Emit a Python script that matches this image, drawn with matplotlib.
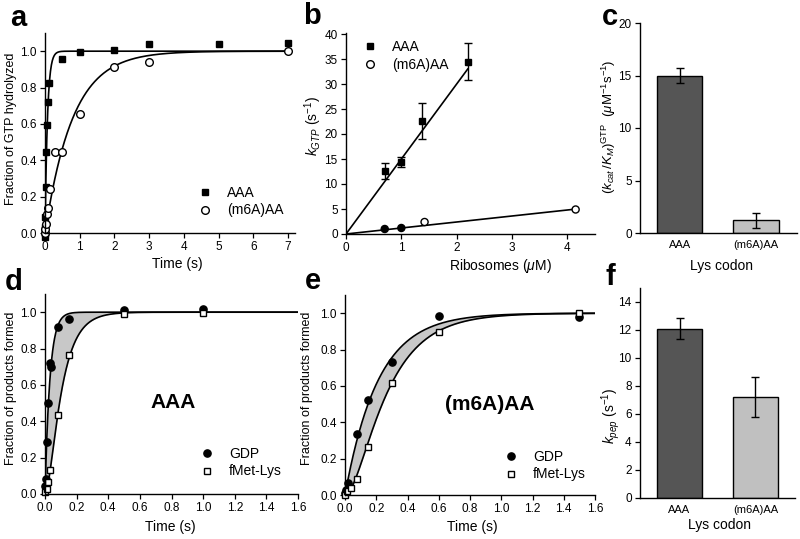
import numpy as np
import matplotlib
matplotlib.use("Agg")
import matplotlib.pyplot as plt

plt.rcParams["font.family"] = ["Liberation Sans", "DejaVu Sans"]
plt.rcParams["mathtext.fontset"] = "custom"
plt.rcParams["mathtext.rm"] = "Liberation Sans"
plt.rcParams["mathtext.it"] = "Liberation Sans:italic"
plt.rcParams["mathtext.bf"] = "Liberation Sans:bold"
plt.rcParams["axes.linewidth"] = 1.0

# ---- panel a: GTP hydrolysis time courses
t_a_aaa = [0, 0, 0.005, 0.01, 0.02, 0.04, 0.06, 0.09, 0.12, 0.5, 1, 2, 3, 5, 7]
y_a_aaa = [-0.02, 0.0, 0.035, 0.087, 0.255, 0.445, 0.595, 0.72, 0.824,
           0.956, 0.996, 1.007, 1.04, 1.04, 1.045]
t_a_m6a = [0, 0.01, 0.03, 0.06, 0.09, 0.15, 0.3, 0.5, 1, 2, 3, 7]
y_a_m6a = [0.0, 0.02, 0.05, 0.105, 0.136, 0.242, 0.445, 0.445,
           0.656, 0.915, 0.938, 1.0]
k_fit_a = {"AAA": 14.0, "(m6A)AA": 1.25}

# ---- panel b: kGTP vs ribosome concentration
conc_aaa = [0.7, 1.0, 1.37, 2.2]
kgtp_aaa = [12.6, 14.5, 22.7, 34.5]
kgtp_aaa_err = [1.6, 1.0, 3.6, 3.7]
conc_m6a = [0.7, 1.0, 1.42, 4.15]
kgtp_m6a = [1.0, 1.2, 2.4, 4.9]
m6a_filled = [True, True, False, False]

# ---- panel c: kcat/KM
codons = ["AAA", "(m6A)AA"]
kcat_km = [15.0, 1.2]
kcat_km_err = [0.7, 0.7]

# ---- panel d: AAA, GDP and fMet-Lys
t_d_gdp = [0.0, 0.005, 0.01, 0.02, 0.03, 0.04, 0.08, 0.15, 0.5, 1.0]
y_d_gdp = [0.045, 0.08, 0.285, 0.5, 0.72, 0.70, 0.92, 0.965, 1.01, 1.02]
t_d_pep = [0.0, 0.01, 0.02, 0.03, 0.08, 0.15, 0.5, 1.0]
y_d_pep = [0.01, 0.03, 0.065, 0.13, 0.435, 0.765, 0.99, 0.995]
k_fit_d = (32.0, 12.0)

# ---- panel e: (m6A)AA, GDP and fMet-Lys
t_e_gdp = [0.0, 0.005, 0.017, 0.077, 0.146, 0.3, 0.6, 1.5]
y_e_gdp = [0.01, 0.03, 0.065, 0.338, 0.52, 0.73, 0.987, 0.98]
t_e_pep = [0.0, 0.01, 0.04, 0.077, 0.146, 0.3, 0.6, 1.5]
y_e_pep = [0.0, 0.02, 0.04, 0.09, 0.265, 0.615, 0.894, 1.0]
k_fit_e = (4.7, 12.0)

# ---- panel f: kpep
kpep = [12.1, 7.2]
kpep_err = [0.75, 1.4]

bar_colors = ["#555555", "#c0c0c0"]
shade = "#c8c8c8"
TICK = 8.5


def single_exp(t, k):
    return 1 - np.exp(-k * t)


def two_step(t, k1, k2):
    return 1 - (k2 * np.exp(-k1 * t) - k1 * np.exp(-k2 * t)) / (k2 - k1)


def style(ax):
    for s in ("top", "right"):
        ax.spines[s].set_visible(False)
    ax.tick_params(direction="out", length=3.5, width=0.9, labelsize=TICK, pad=2.5)


def letter(x, y, s):
    fig.text(x / 800, 1 - y / 539, s, fontsize=21, fontweight="bold",
             ha="center", va="center")


def legend(ax, handles, labels, x0, y0):
    ax.legend(handles, labels, loc="upper left", bbox_to_anchor=(x0, y0),
              frameon=False, fontsize=10, borderpad=0, handlelength=1.0,
              handletextpad=1.1, labelspacing=0.25, borderaxespad=0)


fig = plt.figure(figsize=(8, 5.39), dpi=100)

# ---------------- a
ax = fig.add_axes([45 / 800, 1 - 233 / 539, 250 / 800, 200 / 539])
style(ax)
tt = np.linspace(0, 7, 800)
ax.plot(tt, single_exp(tt, k_fit_a["AAA"]), color="black", lw=1.2)
ax.plot(tt, single_exp(tt, k_fit_a["(m6A)AA"]), color="black", lw=1.2)
h1, = ax.plot(t_a_aaa, y_a_aaa, "s", color="black", ms=5, clip_on=False)
h2, = ax.plot(t_a_m6a, y_a_m6a, "o", mfc="white", mec="black", mew=1.0,
              ms=5.5, clip_on=False)
ax.set_xlim(0, 7.2)
ax.set_ylim(0, 1.1)
ax.set_xticks(range(8))
ax.set_yticks(np.arange(0, 1.01, 0.2))
ax.set_yticklabels([f"{v:.1f}" for v in np.arange(0, 1.01, 0.2)])
ax.set_xlabel("Time (s)", fontsize=10)
ax.set_ylabel("Fraction of GTP hydrolyzed", fontsize=9)
ax.xaxis.set_label_coords(0.53, -0.12)
ax.yaxis.set_label_coords(-0.11, 0.52)
legend(ax, [h1, h2], ["AAA", "(m6A)AA"], 0.612, 0.235)
letter(18, 18, "a")

# ---------------- b
ax = fig.add_axes([346 / 800, 1 - 234 / 539, 249 / 800, 201 / 539])
style(ax)
ca = np.linspace(0, max(conc_aaa), 50)
cm = np.linspace(0, max(conc_m6a), 50)
ax.plot(ca, kcat_km[0] * ca, color="black", lw=1.2)
ax.plot(cm, kcat_km[1] * cm, color="black", lw=1.2)
ax.errorbar(conc_aaa, kgtp_aaa, yerr=kgtp_aaa_err, fmt="s", color="black",
            ms=4.5, capsize=3, elinewidth=1, capthick=1)
fc = ["black" if f else "white" for f in m6a_filled]
ax.scatter(conc_m6a, kgtp_m6a, s=26, facecolors=fc, edgecolors="black",
           linewidths=1.0, zorder=3)
h1, = ax.plot([], [], "s", color="black", ms=5)
h2, = ax.plot([], [], "o", mfc="white", mec="black", mew=1.0, ms=5.5)
ax.set_xlim(0, 4.5)
ax.set_ylim(0, 40.2)
ax.set_xticks(range(5))
ax.set_yticks(range(0, 41, 5))
ax.set_xlabel(r"Ribosomes ($\mu$M)", fontsize=10)
ax.set_ylabel(r"$k_{GTP}$ (s$^{-1}$)", fontsize=10)
ax.xaxis.set_label_coords(0.62, -0.115)
ax.yaxis.set_label_coords(-0.09, 0.54)
legend(ax, [h1, h2], ["AAA", "(m6A)AA"], 0.068, 0.965)
letter(312, 16, "b")

# ---------------- c
ax = fig.add_axes([640 / 800, 1 - 233 / 539, 157 / 800, 210 / 539])
style(ax)
x = np.arange(len(codons))
ax.bar(x, kcat_km, width=0.6, color=bar_colors, edgecolor="black", lw=1.0)
ax.errorbar(x, kcat_km, yerr=kcat_km_err, fmt="none", ecolor="black",
            capsize=3, elinewidth=1, capthick=1)
ax.set_xlim(-0.52, 1.54)
ax.set_ylim(0, 20)
ax.set_yticks(range(0, 21, 5))
ax.set_xticks(x)
ax.set_xticklabels(codons, fontsize=8)
ax.tick_params(axis="x", length=0, pad=5)
ax.set_xlabel("Lys codon", fontsize=10)
ax.set_ylabel(r"$(k_{cat}\,/K_{M})^{\mathrm{GTP}}$  ($\mu$M$^{-1}$s$^{-1}$)",
              fontsize=9.5)
ax.xaxis.set_label_coords(0.52, -0.125)
ax.yaxis.set_label_coords(-0.14, 0.505)
letter(610, 17, "c")

# ---------------- d
ax = fig.add_axes([45 / 800, 1 - 494 / 539, 253 / 800, 200 / 539])
style(ax)
tt = np.linspace(0, 1.6, 800)
g = single_exp(tt, k_fit_d[0])
p = two_step(tt, *k_fit_d)
ax.fill_between(tt, p, g, color=shade, lw=0)
ax.plot(tt, g, color="black", lw=1.2)
ax.plot(tt, p, color="black", lw=1.2)
h1, = ax.plot(t_d_gdp, y_d_gdp, "o", color="black", ms=5.2, clip_on=False)
h2, = ax.plot(t_d_pep, y_d_pep, "s", mfc="white", mec="black", mew=1.0,
              ms=4.8, clip_on=False)
ax.set_xlim(0, 1.6)
ax.set_ylim(0, 1.1)
ax.set_xticks(np.arange(0, 1.61, 0.2))
ax.set_xticklabels([f"{v:.1f}" for v in np.arange(0, 1.61, 0.2)])
ax.set_yticks(np.arange(0, 1.01, 0.2))
ax.set_yticklabels([f"{v:.1f}" for v in np.arange(0, 1.01, 0.2)])
ax.set_xlabel("Time (s)", fontsize=10)
ax.set_ylabel("Fraction of products formed", fontsize=9)
ax.xaxis.set_label_coords(0.494, -0.13)
ax.yaxis.set_label_coords(-0.11, 0.53)
ax.text(0.506, 0.455, "AAA", transform=ax.transAxes, fontsize=15,
        fontweight="bold", ha="center", va="center")
legend(ax, [h1, h2], ["GDP", "fMet-Lys"], 0.613, 0.235)
letter(14, 282, "d")

# ---------------- e
ax = fig.add_axes([345 / 800, 1 - 495 / 539, 250 / 800, 200 / 539])
style(ax)
g = single_exp(tt, k_fit_e[0])
p = two_step(tt, *k_fit_e)
ax.fill_between(tt, p, g, color=shade, lw=0)
ax.plot(tt, g, color="black", lw=1.2)
ax.plot(tt, p, color="black", lw=1.2)
h1, = ax.plot(t_e_gdp, y_e_gdp, "o", color="black", ms=5.2, clip_on=False)
h2, = ax.plot(t_e_pep, y_e_pep, "s", mfc="white", mec="black", mew=1.0,
              ms=4.8, clip_on=False)
ax.set_xlim(0, 1.6)
ax.set_ylim(0, 1.1)
ax.set_xticks(np.arange(0, 1.61, 0.2))
ax.set_xticklabels([f"{v:.1f}" for v in np.arange(0, 1.61, 0.2)])
ax.set_yticks(np.arange(0, 1.01, 0.2))
ax.set_yticklabels([f"{v:.1f}" for v in np.arange(0, 1.01, 0.2)])
ax.set_xlabel("Time (s)", fontsize=10)
ax.set_ylabel("Fraction of products formed", fontsize=9)
ax.xaxis.set_label_coords(0.51, -0.125)
ax.yaxis.set_label_coords(-0.128, 0.535)
ax.text(0.58, 0.45, "(m6A)AA", transform=ax.transAxes, fontsize=15,
        fontweight="bold", ha="center", va="center")
legend(ax, [h1, h2], ["GDP", "fMet-Lys"], 0.636, 0.225)
letter(313, 281, "e")

# ---------------- f
ax = fig.add_axes([640 / 800, 1 - 497.7 / 539, 155 / 800, 209.7 / 539])
style(ax)
ax.bar(x, kpep, width=0.6, color=bar_colors, edgecolor="black", lw=1.0)
ax.errorbar(x, kpep, yerr=kpep_err, fmt="none", ecolor="black",
            capsize=3, elinewidth=1, capthick=1)
ax.set_xlim(-0.52, 1.52)
ax.set_ylim(0, 15)
ax.set_yticks(range(0, 15, 2))
ax.set_xticks(x)
ax.set_xticklabels(codons, fontsize=8)
ax.tick_params(axis="x", length=0, pad=5)
ax.set_xlabel("Lys codon", fontsize=10)
ax.set_ylabel(r"$k_{pep}$ (s$^{-1}$)", fontsize=10)
ax.xaxis.set_label_coords(0.516, -0.095)
ax.yaxis.set_label_coords(-0.115, 0.39)
letter(610, 277, "f")

fig.savefig("out.png", dpi=100)
